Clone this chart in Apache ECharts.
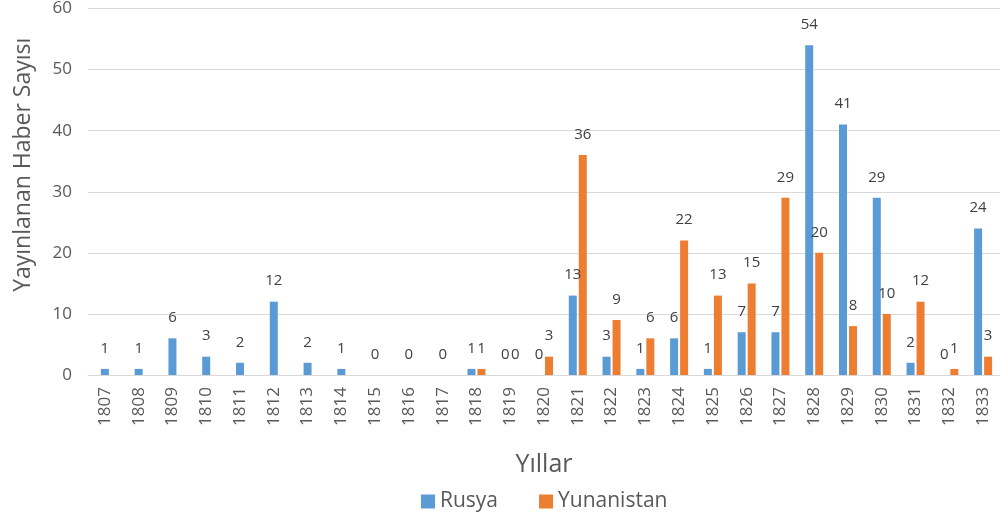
<!DOCTYPE html>
<html>
<head>
<meta charset="utf-8">
<script src="https://cdn.jsdelivr.net/npm/echarts@6/dist/echarts.min.js"></script>
<style>html,body{margin:0;padding:0;background:#fff}#c{width:1000px;height:520px}</style>
</head>
<body>
<div id="c"></div>
<script>
const years = ['1807','1808','1809','1810','1811','1812','1813','1814','1815','1816','1817','1818','1819','1820','1821','1822','1823','1824','1825','1826','1827','1828','1829','1830','1831','1832','1833'];
const rusya = [1,1,6,3,2,12,2,1,0,0,0,1,0,0,13,3,1,6,1,7,7,54,41,29,2,0,24];
const yunanistan = [null,null,null,null,null,null,null,null,null,null,null,1,0,3,36,9,6,22,13,15,29,20,8,10,12,1,3];
const yTicks = [0,10,20,30,40,50,60];

// years with only one series are drawn centred (own hidden axis), the rest side by side
const rusyaSingle = rusya.map((v,i)=> yunanistan[i]==null ? v : null);
const rusyaPair = rusya.map((v,i)=> yunanistan[i]==null ? null : v);

const FONT = '"Open Sans", sans-serif';
const TXT = '#595959';
const BLUE = '#5B9BD5', ORANGE = '#ED7D31';
const lbl = {show:true, position:'top', color:'#404040', fontSize:15, fontFamily:FONT, distance:13};

const chart = echarts.init(document.getElementById('c'), null, {renderer:'canvas'});
chart.setOption({
  animation:false,
  textStyle:{fontFamily:FONT},
  grid:{left:88, right:0, top:8, bottom:145, containLabel:false},
  legend:{
    data:[{name:'Rusya', itemStyle:{color:BLUE}},{name:'Yunanistan', itemStyle:{color:ORANGE}}],
    left:416, top:486, itemWidth:14, itemHeight:14, itemGap:41,
    icon:'rect',
    textStyle:{fontSize:21, color:TXT, fontFamily:FONT}
  },
  xAxis:[{
    type:'category', data:years,
    name:'Yıllar', nameLocation:'middle', nameGap:77,
    nameTextStyle:{fontSize:25, color:TXT, fontFamily:FONT},
    axisLine:{show:true, lineStyle:{color:'#d9d9d9'}},
    axisTick:{show:false},
    axisLabel:{rotate:90, fontSize:17, color:TXT, margin:12, fontFamily:FONT}
  },{
    type:'category', data:years, show:false
  }],
  yAxis:{
    type:'value', min:yTicks[0], max:yTicks[yTicks.length-1], interval:10,
    name:'Yayınlanan Haber Sayısı', nameLocation:'middle', nameGap:53,
    nameTextStyle:{fontSize:23, color:TXT, fontFamily:FONT, padding:[0,0,0,54]},
    axisLine:{show:false}, axisTick:{show:false},
    axisLabel:{fontSize:17, color:TXT, margin:16, fontFamily:FONT},
    splitLine:{lineStyle:{color:'#d9d9d9'}}
  },
  series:[
    {name:'Rusya', type:'bar', xAxisIndex:1, data:rusyaSingle, barWidth:8, itemStyle:{color:BLUE}, label:lbl},
    {name:'Rusya', type:'bar', xAxisIndex:0, data:rusyaPair, barWidth:8, barGap:'25%', itemStyle:{color:BLUE}, label:lbl},
    {name:'Yunanistan', type:'bar', xAxisIndex:0, data:yunanistan, barWidth:8, barGap:'25%', itemStyle:{color:ORANGE}, label:lbl}
  ]
});
</script>
</body>
</html>
